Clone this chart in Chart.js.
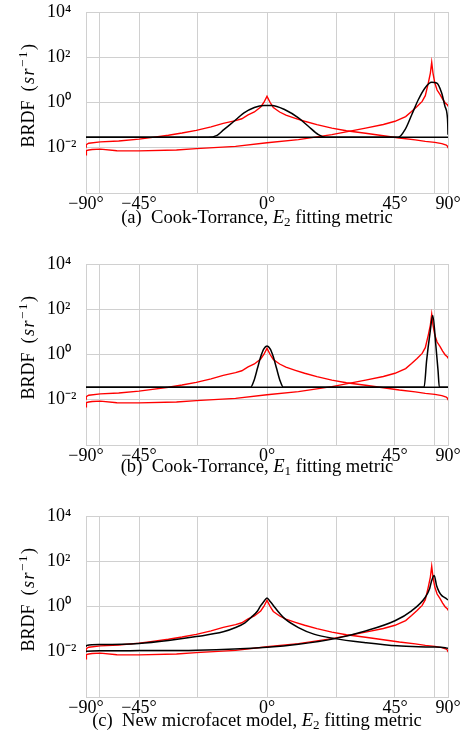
<!DOCTYPE html>
<html>
<head>
<meta charset="utf-8">
<script src="https://cdn.jsdelivr.net/npm/chart.js@4.4.0/dist/chart.umd.min.js"></script>
<style>
  body { margin: 0; background: #fff; width: 472px; height: 737px; position: relative; overflow: hidden; font-family: "Liberation Serif", serif; }
  .panel { position: absolute; left: 0; width: 472px; height: 215px; }
  .ytitle { position: absolute; width: 140px; height: 20px; line-height: 20px; font-size: 18px; text-align: center; transform: rotate(-90deg); white-space: nowrap; }
  .ytitle .unit { letter-spacing: 1.5px; padding-left: 3px; }
  .ytitle sup { font-size: 72%; line-height: 0; }
  .caption { position: absolute; left: 57px; width: 400px; text-align: center; font-size: 18.6px; line-height: 20px; white-space: nowrap; }
  .caption sub { font-size: 70%; line-height: 0; vertical-align: -0.25em; }
</style>
</head>
<body>
<canvas id="c1" class="panel" style="top:0px"></canvas>
<canvas id="c2" class="panel" style="top:252px"></canvas>
<canvas id="c3" class="panel" style="top:504px"></canvas>

<div class="ytitle" style="left:-42px; top:85px">BRDF<span class="unit"> (<i>sr</i><sup>−1</sup>)</span></div>
<div class="ytitle" style="left:-42px; top:337px">BRDF<span class="unit"> (<i>sr</i><sup>−1</sup>)</span></div>
<div class="ytitle" style="left:-42px; top:589px">BRDF<span class="unit"> (<i>sr</i><sup>−1</sup>)</span></div>

<div class="caption" style="top:207px">(a)&ensp;Cook-Torrance, <i>E</i><sub>2</sub> fitting metric</div>
<div class="caption" style="top:456px">(b)&ensp;Cook-Torrance, <i>E</i><sub>1</sub> fitting metric</div>
<div class="caption" style="top:710px">(c)&ensp;New microfacet model, <i>E</i><sub>2</sub> fitting metric</div>

<script>
// axis ticks: grid every 22.5 deg on a sin(theta) axis, labels every 45
const xGridDeg = [-90, -67.5, -45, -22.5, 0, 22.5, 45, 67.5, 90];
const xTickLabels = ['−90°', '', '−45°', '', '0°', '', '45°', '', '90°'];
const yDecades = [-4, -3, -2, -1, 0, 1, 2, 3, 4];
const yTickLabels = ['', '', '10⁻²', '', '10⁰', '', '10²', '', '10⁴'];

// measured data (red), same in all three panels; values are log10 of BRDF
const redADeg = [-90, -87, -80, -67, -55, -45, -40, -33, -28, -23, -18, -14, -10, -8, -6, -4, -2, -1, 0, 1, 2, 4, 6, 9, 12, 16, 21, 26, 33, 40, 47, 55, 61, 68, 75, 82, 87, 90];
const redALog = [-1.97, -1.86, -1.80, -1.74, -1.70, -1.62, -1.55, -1.45, -1.35, -1.23, -1.08, -0.92, -0.80, -0.72, -0.55, -0.42, -0.20, 0.0, 0.27, 0.0, -0.22, -0.42, -0.56, -0.70, -0.83, -0.98, -1.13, -1.25, -1.36, -1.47, -1.57, -1.65, -1.72, -1.76, -1.82, -1.88, -1.95, -2.02];
const redBDeg = [-90, -88, -85, -80, -75, -67, -56, -45, -30, -23, -10, 0, 10, 21, 33, 40, 45, 50, 53, 56, 59, 61, 63, 64.5, 65.5, 66.5, 68, 70, 73, 76, 80, 85, 90];
const redBLog = [-2.31, -2.20, -2.13, -2.10, -2.08, -2.06, -2.13, -2.14, -2.10, -2.04, -1.94, -1.78, -1.64, -1.42, -1.13, -0.97, -0.83, -0.62, -0.40, -0.18, 0.05, 0.30, 0.86, 1.30, 1.78, 1.30, 0.86, 0.55, 0.35, 0.15, -0.02, -0.10, -0.17];

// (a) Cook-Torrance, E2 fits
const fitA1Deg = [-90, -19, -16, -13.8, -10.5, -7.3, -4, -1, 1.5, 5.7, 10, 13.2, 16.5, 19, 90];
const fitA1Log = [-1.54, -1.54, -1.45, -1.2, -0.83, -0.46, -0.22, -0.13, -0.13, -0.32, -0.68, -1.05, -1.42, -1.54, -1.54];
const fitB1Deg = [-90, 46.5, 49.7, 53.1, 56.7, 60.8, 65.5, 69.6, 74.8, 79.5, 84, 87, 90];
const fitB1Log = [-1.54, -1.54, -1.2, -0.54, 0.12, 0.64, 0.89, 0.86, 0.42, -0.17, -0.5, -0.95, -1.42];

// (b) Cook-Torrance, E1 fits
const fitA2Deg = [-90, -5.2, -4, -3, -2, -1, 0, 1, 2, 3, 4, 5.2, 90];
const fitA2Log = [-1.45, -1.45, -1.1, -0.6, -0.1, 0.25, 0.38, 0.25, -0.1, -0.6, -1.1, -1.45, -1.45];
const fitB2Deg = [-90, 60.2, 61.9, 64.2, 66.3, 69, 70.9, 72.2, 90];
const fitB2Log = [-1.45, -1.45, -0.25, 0.93, 1.72, 0.34, -0.7, -1.45, -1.45];

// (c) new microfacet model, E2 fits
const fitA3Deg = [-90, -85, -67, -45, -33, -23, -14, -10, -7, -5, -3, -2, -1, 0, 1, 2.5, 4, 5.7, 10, 15, 22, 33, 46, 65, 80, 90];
const fitA3Log = [-1.78, -1.72, -1.68, -1.63, -1.50, -1.33, -1.12, -0.93, -0.72, -0.48, -0.20, 0.04, 0.22, 0.38, 0.22, -0.04, -0.30, -0.55, -0.93, -1.22, -1.42, -1.60, -1.74, -1.79, -1.82, -1.85];
const fitB3Deg = [-90, -85, -67, -45, -23, 0, 10, 22, 33, 45, 53, 61, 64, 65.5, 67.5, 69.5, 72, 75, 80, 90];
const fitB3Log = [-2.01, -1.98, -1.96, -1.95, -1.93, -1.8, -1.67, -1.42, -1.08, -0.63, -0.19, 0.41, 0.8, 1.15, 1.37, 0.93, 0.65, 0.48, 0.38, 0.29];

const sinDeg = d => Math.sin(d * Math.PI / 180);
const pts = (deg, lg) => deg.map((d, i) => ({ x: sinDeg(d), y: Math.pow(10, lg[i]) }));

const FONT = { family: 'Liberation Serif', size: 18 };
const GRID = '#d0d0d0';

function series(deg, lg, color, smooth) {
    return {
        data: pts(deg, lg),
        borderColor: color,
        borderWidth: color === 'black' ? 1.5 : 1.4,
        pointRadius: 0,
        fill: false,
        tension: 0,
        cubicInterpolationMode: smooth ? 'monotone' : 'default'
    };
}

function panel(id, fitADeg, fitALog, fitBDeg, fitBLog) {
    new Chart(document.getElementById(id), {
        type: 'line',
        data: {
            datasets: [
                series(fitADeg, fitALog, 'black', true),
                series(fitBDeg, fitBLog, 'black', true),
                series(redADeg, redALog, '#ff0000', false),
                series(redBDeg, redBLog, '#ff0000', false)
            ]
        },
        options: {
            responsive: false,
            animation: false,
            events: [],
            layout: { padding: { left: 47, right: 24, top: 12, bottom: 0 } },
            plugins: { legend: { display: false }, tooltip: { enabled: false } },
            scales: {
                x: {
                    type: 'linear',
                    min: -1,
                    max: 1,
                    afterBuildTicks: s => { s.ticks = xGridDeg.map(d => ({ value: sinDeg(d) })); },
                    afterFit: s => { s.height = 22; },
                    grid: { color: GRID, lineWidth: 1, drawTicks: false },
                    border: { color: GRID },
                    ticks: {
                        autoSkip: false,
                        maxRotation: 0,
                        padding: 0,
                        color: '#000',
                        font: FONT,
                        callback: (v, i) => xTickLabels[i]
                    }
                },
                y: {
                    type: 'logarithmic',
                    min: 1e-4,
                    max: 1e4,
                    afterBuildTicks: s => { s.ticks = yDecades.map(e => ({ value: Math.pow(10, e) })); },
                    afterFit: s => { s.width = 39; },
                    grid: { color: GRID, lineWidth: 1, drawTicks: false },
                    border: { color: GRID },
                    ticks: {
                        crossAlign: 'far',
                        padding: 0,
                        color: '#000',
                        font: FONT,
                        callback: (v, i) => yTickLabels[i]
                    }
                }
            }
        }
    });
}

for (const id of ['c1', 'c2', 'c3']) {
    const c = document.getElementById(id);
    c.width = 472;
    c.height = 215;
}
panel('c1', fitA1Deg, fitA1Log, fitB1Deg, fitB1Log);
panel('c2', fitA2Deg, fitA2Log, fitB2Deg, fitB2Log);
panel('c3', fitA3Deg, fitA3Log, fitB3Deg, fitB3Log);
</script>
</body>
</html>
